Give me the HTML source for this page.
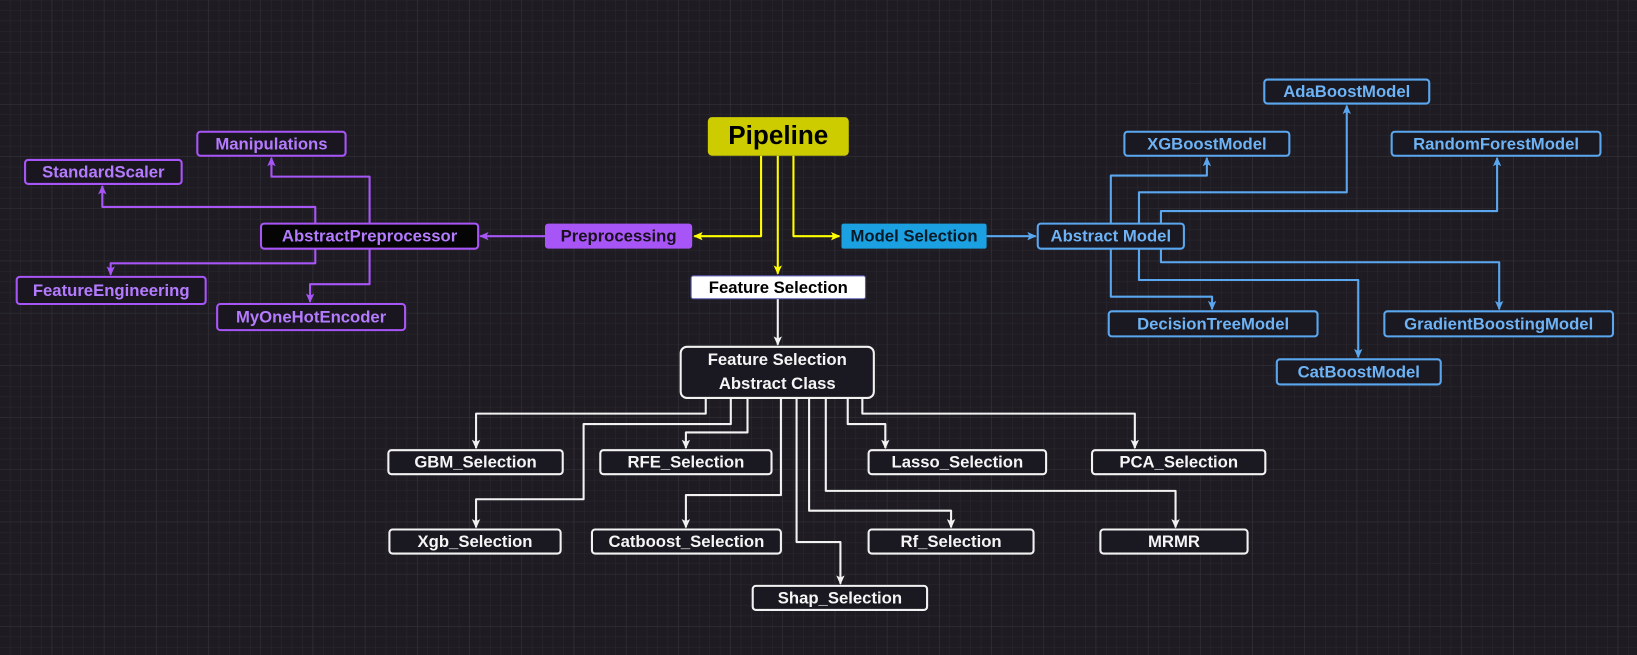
<!DOCTYPE html>
<html><head><meta charset="utf-8"><style>
html,body{margin:0;padding:0;background:#1e1c22;}
svg{display:block}
text{font-family:"Liberation Sans",sans-serif;font-weight:bold;font-size:16px;text-anchor:middle;dominant-baseline:central}
</style></head><body>
<svg width="1637" height="655" viewBox="0 0 1568 627" xmlns="http://www.w3.org/2000/svg">
<defs>
<pattern id="g1" width="10" height="10" patternUnits="userSpaceOnUse"><path d="M10 0V10M0 10H10" stroke="#2b2930" stroke-width="1" fill="none"/></pattern>
<pattern id="g2" width="50" height="50" patternUnits="userSpaceOnUse"><path d="M50 0V50M0 50H50" stroke="#35333a" stroke-width="1" fill="none"/></pattern>
<marker id="aw" markerWidth="10" markerHeight="10" refX="8" refY="5" orient="auto" markerUnits="userSpaceOnUse"><path d="M0,1 L9,5 L0,9 L2,5z" fill="#f2f2f2"/></marker>
<marker id="ay" markerWidth="10" markerHeight="10" refX="8" refY="5" orient="auto" markerUnits="userSpaceOnUse"><path d="M0,1 L9,5 L0,9 L2,5z" fill="#ffff00"/></marker>
<marker id="ap" markerWidth="10" markerHeight="10" refX="8" refY="5" orient="auto" markerUnits="userSpaceOnUse"><path d="M0,1 L9,5 L0,9 L2,5z" fill="#a855f7"/></marker>
<marker id="ab" markerWidth="10" markerHeight="10" refX="8" refY="5" orient="auto" markerUnits="userSpaceOnUse"><path d="M0,1 L9,5 L0,9 L2,5z" fill="#5aa7f0"/></marker>
</defs>
<rect width="1568" height="627" fill="#1e1c22"/>
<rect width="1568" height="627" fill="url(#g1)"/>
<rect width="1568" height="627" fill="url(#g2)"/>

<g fill="none" stroke-width="2" stroke-linejoin="round">
<!-- yellow -->
<g stroke="#ffff00">
<path d="M729 149V226H665" marker-end="url(#ay)"/>
<path d="M745 149V262" marker-end="url(#ay)"/>
<path d="M760 149V226H804" marker-end="url(#ay)"/>
</g>
<!-- purple -->
<g stroke="#a855f7">
<path d="M522 226H460" marker-end="url(#ap)"/>
<path d="M302 214V198H98V178" marker-end="url(#ap)"/>
<path d="M354 214V169H260V151" marker-end="url(#ap)"/>
<path d="M302 238V252H106V263" marker-end="url(#ap)"/>
<path d="M354 238V272H297V289" marker-end="url(#ap)"/>
</g>
<!-- blue -->
<g stroke="#5aa7f0">
<path d="M945 226H992" marker-end="url(#ab)"/>
<path d="M1064 214V168H1156V151" marker-end="url(#ab)"/>
<path d="M1091 214V184H1290V101" marker-end="url(#ab)"/>
<path d="M1112 214V202H1434V151" marker-end="url(#ab)"/>
<path d="M1064 238V284H1161V296" marker-end="url(#ab)"/>
<path d="M1091 238V268H1301V342" marker-end="url(#ab)"/>
<path d="M1112 238V251H1436V296" marker-end="url(#ab)"/>
</g>
<!-- white -->
<g stroke="#f2f2f2">
<path d="M745 286V330" marker-end="url(#aw)"/>
<path d="M676 381V396H456V429" marker-end="url(#aw)"/>
<path d="M700 381V406H559V478H456V505" marker-end="url(#aw)"/>
<path d="M716 381V414H657V429" marker-end="url(#aw)"/>
<path d="M748 381V474H657V505" marker-end="url(#aw)"/>
<path d="M763 381V519H805V559" marker-end="url(#aw)"/>
<path d="M775 381V489H911V505" marker-end="url(#aw)"/>
<path d="M791 381V470H1126V505" marker-end="url(#aw)"/>
<path d="M812 381V406H848V429" marker-end="url(#aw)"/>
<path d="M826 381V396H1087V429" marker-end="url(#aw)"/>
</g>
</g>

<!-- center nodes -->
<rect x="678" y="112" width="135" height="37" rx="4" fill="#cccc00"/>
<text x="745.5" y="129" font-size="24" style="font-size:25px" fill="#000">Pipeline</text>
<rect x="522" y="214" width="141" height="24" rx="3" fill="#a855f7"/>
<text x="592.5" y="226" fill="#1a1020">Preprocessing</text>
<rect x="806" y="214" width="139" height="24" rx="2" fill="#1ba1e2"/>
<text x="875.5" y="226" fill="#0a1a26">Model Selection</text>
<rect x="662" y="264" width="167" height="22" rx="2" fill="#ffffff" stroke="#5a5ab0" stroke-width="1"/>
<text x="745.5" y="275" fill="#000">Feature Selection</text>

<!-- purple nodes -->
<g fill="#1a1620" stroke="#a855f7" stroke-width="2">
<rect x="250" y="214" width="208" height="24" rx="3" fill="#050505"/>
<rect x="189" y="126" width="142" height="23" rx="3"/>
<rect x="24" y="153" width="150" height="23" rx="3"/>
<rect x="16" y="265" width="181" height="26" rx="3"/>
<rect x="208" y="291" width="180" height="25" rx="3"/>
</g>
<g fill="#b57bff">
<text x="354" y="226">AbstractPreprocessor</text>
<text x="260" y="137.5">Manipulations</text>
<text x="99" y="164.5">StandardScaler</text>
<text x="106.5" y="278">FeatureEngineering</text>
<text x="298" y="303.5">MyOneHotEncoder</text>
</g>

<!-- blue nodes -->
<g fill="#1a1820" stroke="#5aa7f0" stroke-width="2">
<rect x="994" y="214" width="140" height="24" rx="3"/>
<rect x="1211" y="76" width="158" height="23" rx="3"/>
<rect x="1077" y="126" width="158" height="23" rx="3"/>
<rect x="1333" y="126" width="200" height="23" rx="3"/>
<rect x="1062" y="298" width="200" height="24" rx="3"/>
<rect x="1326" y="298" width="219" height="24" rx="3"/>
<rect x="1223" y="344" width="157" height="24" rx="3"/>
</g>
<g fill="#6db3f5">
<text x="1064" y="226">Abstract Model</text>
<text x="1290" y="87.5">AdaBoostModel</text>
<text x="1156" y="137.5">XGBoostModel</text>
<text x="1433" y="137.5">RandomForestModel</text>
<text x="1162" y="310">DecisionTreeModel</text>
<text x="1435.5" y="310">GradientBoostingModel</text>
<text x="1301.5" y="356">CatBoostModel</text>
</g>

<!-- white nodes -->
<g fill="#1a1820" stroke="#f2f2f2" stroke-width="2">
<rect x="652" y="332" width="185" height="49" rx="6"/>
<rect x="372" y="431" width="167" height="23" rx="3"/>
<rect x="575" y="431" width="164" height="23" rx="3"/>
<rect x="832" y="431" width="170" height="23" rx="3"/>
<rect x="1046" y="431" width="166" height="23" rx="3"/>
<rect x="373" y="507" width="164" height="23" rx="3"/>
<rect x="567" y="507" width="181" height="23" rx="3"/>
<rect x="832" y="507" width="158" height="23" rx="3"/>
<rect x="1054" y="507" width="141" height="23" rx="3"/>
<rect x="721" y="561" width="167" height="23" rx="3"/>
</g>
<g fill="#f5f5f5">
<text x="744.5" y="344">Feature Selection</text>
<text x="744.5" y="367">Abstract Class</text>
<text x="455.5" y="442.5">GBM_Selection</text>
<text x="657" y="442.5">RFE_Selection</text>
<text x="917" y="442.5">Lasso_Selection</text>
<text x="1129" y="442.5">PCA_Selection</text>
<text x="455" y="518.5">Xgb_Selection</text>
<text x="657.5" y="518.5">Catboost_Selection</text>
<text x="911" y="518.5">Rf_Selection</text>
<text x="1124.5" y="518.5">MRMR</text>
<text x="804.5" y="572.5">Shap_Selection</text>
</g>
</svg>
</body></html>
